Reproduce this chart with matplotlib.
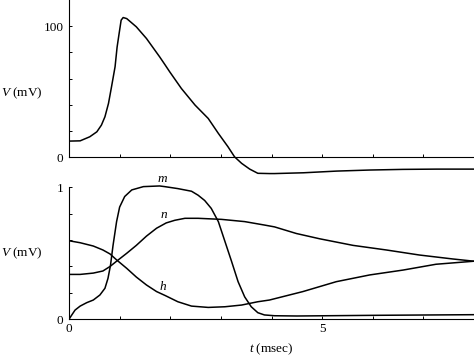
import numpy as np
import matplotlib
matplotlib.use("Agg")
import matplotlib.pyplot as plt

plt.rcParams['font.family'] = 'Liberation Serif'
plt.rcParams['mathtext.fontset'] = 'custom'
plt.rcParams['mathtext.rm'] = 'Liberation Serif'
plt.rcParams['mathtext.it'] = 'Liberation Serif:italic'

# membrane potential V (mV) vs time t (msec)
t_v = [0.0, 0.22, 0.41, 0.55, 0.64, 0.71, 0.78, 0.84, 0.91, 0.95, 0.99, 1.03,
       1.07, 1.14, 1.33, 1.53, 1.79, 1.89, 1.99, 2.22, 2.49, 2.75, 2.95, 3.14,
       3.27, 3.41, 3.57, 3.73, 3.96, 4.06, 4.63, 5.29, 5.94, 6.6, 7.26, 8.0]
v = [12.2, 12.4, 15.5, 19.3, 24.4, 30.8, 41.0, 53.7, 69.0, 84.0, 94.4, 104.6,
     106.6, 105.8, 99.5, 90.6, 76.6, 70.9, 65.1, 52.4, 39.7, 29.5, 18.1, 7.9,
     0.2, -4.8, -9.2, -12.4, -12.6, -12.6, -12.0, -10.7, -9.9, -9.4, -9.2, -9.2]

# gating variables m, n, h
t_m = [0.0, 0.05, 0.12, 0.22, 0.35, 0.48, 0.61, 0.71, 0.77, 0.82, 0.87, 0.94,
       1.0, 1.1, 1.24, 1.47, 1.79, 1.89, 2.15, 2.42, 2.55, 2.68, 2.81, 2.95,
       3.08, 3.21, 3.34, 3.47, 3.6, 3.73, 3.86, 4.06, 4.5, 6.0, 8.0]
m = [0.0, 0.03, 0.07, 0.10, 0.126, 0.146, 0.184, 0.235, 0.31, 0.41, 0.56, 0.74,
     0.85, 0.93, 0.98, 1.005, 1.01, 1.005, 0.99, 0.97, 0.94, 0.90, 0.84, 0.74,
     0.59, 0.44, 0.285, 0.17, 0.095, 0.05, 0.033, 0.027, 0.025, 0.03, 0.035]

t_n = [0.0, 0.22, 0.48, 0.67, 0.81, 0.94, 1.14, 1.33, 1.53, 1.73, 1.92, 2.09,
       2.29, 2.55, 3.01, 3.47, 3.86, 4.06, 4.49, 4.95, 5.61, 6.27, 6.92, 7.58, 8.0]
n = [0.34, 0.34, 0.35, 0.366, 0.40, 0.44, 0.50, 0.56, 0.63, 0.69, 0.73, 0.75,
     0.765, 0.765, 0.757, 0.74, 0.714, 0.70, 0.65, 0.61, 0.56, 0.525, 0.487, 0.457, 0.44]

t_h = [0.0, 0.22, 0.48, 0.67, 0.81, 0.94, 1.14, 1.33, 1.53, 1.73, 1.9, 2.15,
       2.42, 2.75, 3.08, 3.41, 3.73, 3.96, 4.62, 5.28, 5.94, 6.6, 7.25, 8.0]
h = [0.595, 0.58, 0.555, 0.525, 0.495, 0.45, 0.386, 0.32, 0.26, 0.21, 0.18, 0.133,
     0.10, 0.09, 0.095, 0.108, 0.133, 0.146, 0.21, 0.285, 0.336, 0.373, 0.417, 0.44]

W, H = 474, 358
fig = plt.figure(figsize=(W / 100, H / 100), dpi=100)

def px(x0, y0, x1, y1):
    return [x0 / W, 1 - y1 / H, (x1 - x0) / W, (y1 - y0) / H]

ax1 = fig.add_axes(px(69, 0, 474, 175.4))
ax2 = fig.add_axes(px(69, 182, 474, 319.3))

lw = 1.1
ax1.plot(t_v, v, color='black', lw=lw, solid_joinstyle='round')
ax1.set_xlim(0, 8)
ax1.set_ylim(-14, 120)
ax1.spines['top'].set_visible(False)
ax1.spines['right'].set_visible(False)
ax1.spines['bottom'].set_position(('data', 0))
ax1.spines['left'].set_bounds(0, 120)
ax1.set_xticks(range(9))
ax1.set_xticklabels([''] * 9)
ax1.set_yticks([0, 20, 40, 60, 80, 100])
ax1.set_yticklabels(['0', '', '', '', '', '100'])

for tt, yy in ((t_m, m), (t_n, n), (t_h, h)):
    ax2.plot(tt, yy, color='black', lw=lw, solid_joinstyle='round')
ax2.set_xlim(0, 8)
ax2.set_ylim(0, 1.04)
ax2.spines['top'].set_visible(False)
ax2.spines['right'].set_visible(False)
ax2.spines['left'].set_bounds(0, 1)
ax2.set_xticks(range(9))
ax2.set_xticklabels(['0', '', '', '', '', '5', '', '', ''])
ax2.set_yticks([0, 0.2, 0.4, 0.6, 0.8, 1.0])
ax2.set_yticklabels(['0', '', '', '', '', '1'])

for ax in (ax1, ax2):
    for s in ax.spines.values():
        s.set_linewidth(0.8)
    ax.tick_params(direction='in', length=2.5, width=0.7, labelsize=9.5)
    ax.tick_params(axis='y', pad=4)
    ax.tick_params(axis='x', pad=3)

ax2.text(1.85, 1.06, r'$m$', ha='center', va='center', fontsize=9.5, clip_on=False)
ax2.text(1.87, 0.79, r'$n$', ha='center', va='center', fontsize=9.5)
ax2.text(1.85, 0.245, r'$h$', ha='center', va='center', fontsize=9.5)

fig.text(1 / W, 1 - 93 / H, r'$V$ (mV)', ha='left', va='center', fontsize=9.5)
fig.text(1 / W, 1 - 253 / H, r'$V$ (mV)', ha='left', va='center', fontsize=9.5)
fig.text(271 / W, 1 - 349 / H, r'$t$ (msec)', ha='center', va='center', fontsize=9.5)

fig.savefig('out.png', dpi=100)
